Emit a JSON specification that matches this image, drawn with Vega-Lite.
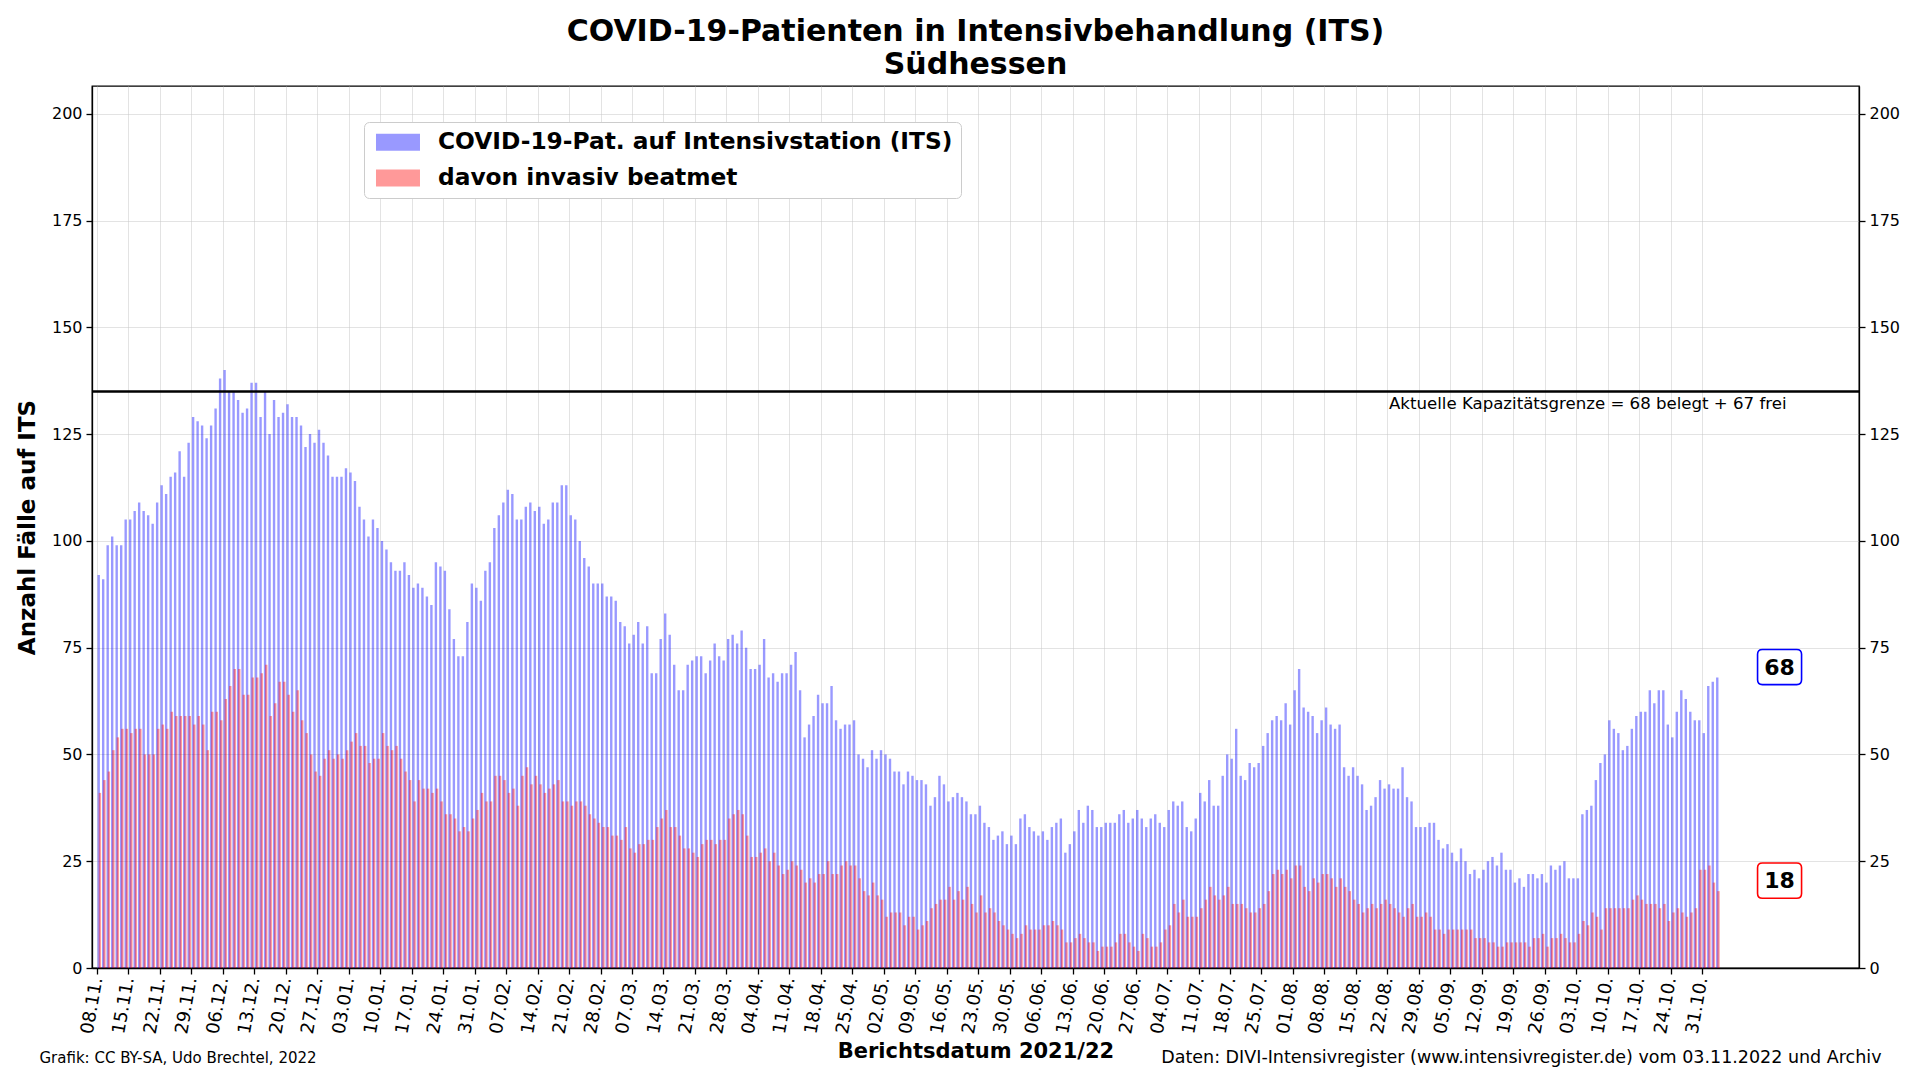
{
  "$schema": "https://vega.github.io/schema/vega-lite/v6.json",
  "width": 1767,
  "height": 882,
  "autosize": {"type": "none"},
  "padding": {"left": 92, "top": 86, "right": 61, "bottom": 112},
  "background": "white",
  "title": {
    "text": ["COVID-19-Patienten in Intensivbehandlung (ITS)", "Südhessen"],
    "fontSize": 30, "fontWeight": "bold", "font": "DejaVu Sans", "color": "black",
    "anchor": "middle", "frame": "group", "lineHeight": 33, "offset": 6
  },
  "datasets": {
    "its": [
{"d":"2021-11-08","its":92,"inv":41},{"d":"2021-11-09","its":91,"inv":44},{"d":"2021-11-10","its":99,"inv":46},{"d":"2021-11-11","its":101,"inv":51},{"d":"2021-11-12","its":99,"inv":54},{"d":"2021-11-13","its":99,"inv":56},{"d":"2021-11-14","its":105,"inv":56},{"d":"2021-11-15","its":105,"inv":55},{"d":"2021-11-16","its":107,"inv":56},{"d":"2021-11-17","its":109,"inv":56},{"d":"2021-11-18","its":107,"inv":50},{"d":"2021-11-19","its":106,"inv":50},{"d":"2021-11-20","its":104,"inv":50},{"d":"2021-11-21","its":109,"inv":56},{"d":"2021-11-22","its":113,"inv":57},{"d":"2021-11-23","its":111,"inv":56},{"d":"2021-11-24","its":115,"inv":60},{"d":"2021-11-25","its":116,"inv":59},{"d":"2021-11-26","its":121,"inv":59},{"d":"2021-11-27","its":115,"inv":59},{"d":"2021-11-28","its":123,"inv":59},{"d":"2021-11-29","its":129,"inv":57},{"d":"2021-11-30","its":128,"inv":59},
{"d":"2021-12-01","its":127,"inv":57},{"d":"2021-12-02","its":124,"inv":51},{"d":"2021-12-03","its":127,"inv":60},{"d":"2021-12-04","its":131,"inv":60},{"d":"2021-12-05","its":138,"inv":58},{"d":"2021-12-06","its":140,"inv":63},{"d":"2021-12-07","its":135,"inv":66},{"d":"2021-12-08","its":135,"inv":70},{"d":"2021-12-09","its":133,"inv":70},{"d":"2021-12-10","its":130,"inv":64},{"d":"2021-12-11","its":131,"inv":64},{"d":"2021-12-12","its":137,"inv":68},{"d":"2021-12-13","its":137,"inv":68},{"d":"2021-12-14","its":129,"inv":69},{"d":"2021-12-15","its":135,"inv":71},{"d":"2021-12-16","its":125,"inv":59},{"d":"2021-12-17","its":133,"inv":62},{"d":"2021-12-18","its":129,"inv":67},{"d":"2021-12-19","its":130,"inv":67},{"d":"2021-12-20","its":132,"inv":64},{"d":"2021-12-21","its":129,"inv":60},{"d":"2021-12-22","its":129,"inv":65},{"d":"2021-12-23","its":127,"inv":58},{"d":"2021-12-24","its":122,"inv":55},{"d":"2021-12-25","its":125,"inv":50},{"d":"2021-12-26","its":123,"inv":46},{"d":"2021-12-27","its":126,"inv":45},{"d":"2021-12-28","its":123,"inv":49},{"d":"2021-12-29","its":120,"inv":51},{"d":"2021-12-30","its":115,"inv":49},{"d":"2021-12-31","its":115,"inv":50},
{"d":"2022-01-01","its":115,"inv":49},{"d":"2022-01-02","its":117,"inv":51},{"d":"2022-01-03","its":116,"inv":53},{"d":"2022-01-04","its":114,"inv":55},{"d":"2022-01-05","its":108,"inv":52},{"d":"2022-01-06","its":105,"inv":52},{"d":"2022-01-07","its":101,"inv":48},{"d":"2022-01-08","its":105,"inv":49},{"d":"2022-01-09","its":103,"inv":49},{"d":"2022-01-10","its":100,"inv":55},{"d":"2022-01-11","its":98,"inv":52},{"d":"2022-01-12","its":95,"inv":51},{"d":"2022-01-13","its":93,"inv":52},{"d":"2022-01-14","its":93,"inv":49},{"d":"2022-01-15","its":95,"inv":46},{"d":"2022-01-16","its":92,"inv":44},{"d":"2022-01-17","its":89,"inv":39},{"d":"2022-01-18","its":90,"inv":44},{"d":"2022-01-19","its":89,"inv":42},{"d":"2022-01-20","its":87,"inv":42},{"d":"2022-01-21","its":85,"inv":41},{"d":"2022-01-22","its":95,"inv":42},{"d":"2022-01-23","its":94,"inv":39},{"d":"2022-01-24","its":93,"inv":36},{"d":"2022-01-25","its":84,"inv":36},{"d":"2022-01-26","its":77,"inv":35},{"d":"2022-01-27","its":73,"inv":32},{"d":"2022-01-28","its":73,"inv":33},{"d":"2022-01-29","its":81,"inv":32},{"d":"2022-01-30","its":90,"inv":35},{"d":"2022-01-31","its":89,"inv":37},
{"d":"2022-02-01","its":86,"inv":41},{"d":"2022-02-02","its":93,"inv":39},{"d":"2022-02-03","its":95,"inv":39},{"d":"2022-02-04","its":103,"inv":45},{"d":"2022-02-05","its":106,"inv":45},{"d":"2022-02-06","its":109,"inv":44},{"d":"2022-02-07","its":112,"inv":41},{"d":"2022-02-08","its":111,"inv":42},{"d":"2022-02-09","its":105,"inv":38},{"d":"2022-02-10","its":105,"inv":45},{"d":"2022-02-11","its":108,"inv":47},{"d":"2022-02-12","its":109,"inv":43},{"d":"2022-02-13","its":107,"inv":45},{"d":"2022-02-14","its":108,"inv":43},{"d":"2022-02-15","its":104,"inv":41},{"d":"2022-02-16","its":105,"inv":42},{"d":"2022-02-17","its":109,"inv":43},{"d":"2022-02-18","its":109,"inv":44},{"d":"2022-02-19","its":113,"inv":39},{"d":"2022-02-20","its":113,"inv":39},{"d":"2022-02-21","its":106,"inv":38},{"d":"2022-02-22","its":105,"inv":39},{"d":"2022-02-23","its":100,"inv":39},{"d":"2022-02-24","its":96,"inv":38},{"d":"2022-02-25","its":94,"inv":36},{"d":"2022-02-26","its":90,"inv":35},{"d":"2022-02-27","its":90,"inv":34},{"d":"2022-02-28","its":90,"inv":33},
{"d":"2022-03-01","its":87,"inv":33},{"d":"2022-03-02","its":87,"inv":31},{"d":"2022-03-03","its":86,"inv":31},{"d":"2022-03-04","its":81,"inv":30},{"d":"2022-03-05","its":80,"inv":33},{"d":"2022-03-06","its":76,"inv":28},{"d":"2022-03-07","its":78,"inv":27},{"d":"2022-03-08","its":81,"inv":29},{"d":"2022-03-09","its":76,"inv":29},{"d":"2022-03-10","its":80,"inv":30},{"d":"2022-03-11","its":69,"inv":30},{"d":"2022-03-12","its":69,"inv":33},{"d":"2022-03-13","its":77,"inv":35},{"d":"2022-03-14","its":83,"inv":37},{"d":"2022-03-15","its":78,"inv":33},{"d":"2022-03-16","its":71,"inv":33},{"d":"2022-03-17","its":65,"inv":31},{"d":"2022-03-18","its":65,"inv":28},{"d":"2022-03-19","its":71,"inv":28},{"d":"2022-03-20","its":72,"inv":27},{"d":"2022-03-21","its":73,"inv":26},{"d":"2022-03-22","its":73,"inv":29},{"d":"2022-03-23","its":69,"inv":30},{"d":"2022-03-24","its":72,"inv":30},{"d":"2022-03-25","its":76,"inv":29},{"d":"2022-03-26","its":73,"inv":30},{"d":"2022-03-27","its":72,"inv":30},{"d":"2022-03-28","its":77,"inv":35},{"d":"2022-03-29","its":78,"inv":36},{"d":"2022-03-30","its":76,"inv":37},{"d":"2022-03-31","its":79,"inv":36},
{"d":"2022-04-01","its":75,"inv":31},{"d":"2022-04-02","its":70,"inv":26},{"d":"2022-04-03","its":70,"inv":26},{"d":"2022-04-04","its":71,"inv":27},{"d":"2022-04-05","its":77,"inv":28},{"d":"2022-04-06","its":68,"inv":25},{"d":"2022-04-07","its":69,"inv":27},{"d":"2022-04-08","its":67,"inv":24},{"d":"2022-04-09","its":69,"inv":22},{"d":"2022-04-10","its":69,"inv":23},{"d":"2022-04-11","its":71,"inv":25},{"d":"2022-04-12","its":74,"inv":24},{"d":"2022-04-13","its":65,"inv":23},{"d":"2022-04-14","its":54,"inv":20},{"d":"2022-04-15","its":57,"inv":21},{"d":"2022-04-16","its":59,"inv":20},{"d":"2022-04-17","its":64,"inv":22},{"d":"2022-04-18","its":62,"inv":22},{"d":"2022-04-19","its":62,"inv":25},{"d":"2022-04-20","its":66,"inv":22},{"d":"2022-04-21","its":58,"inv":22},{"d":"2022-04-22","its":56,"inv":24},{"d":"2022-04-23","its":57,"inv":25},{"d":"2022-04-24","its":57,"inv":24},{"d":"2022-04-25","its":58,"inv":24},{"d":"2022-04-26","its":50,"inv":21},{"d":"2022-04-27","its":49,"inv":18},{"d":"2022-04-28","its":47,"inv":17},{"d":"2022-04-29","its":51,"inv":20},{"d":"2022-04-30","its":49,"inv":17},
{"d":"2022-05-01","its":51,"inv":16},{"d":"2022-05-02","its":50,"inv":12},{"d":"2022-05-03","its":49,"inv":13},{"d":"2022-05-04","its":46,"inv":13},{"d":"2022-05-05","its":46,"inv":13},{"d":"2022-05-06","its":43,"inv":10},{"d":"2022-05-07","its":46,"inv":12},{"d":"2022-05-08","its":45,"inv":12},{"d":"2022-05-09","its":44,"inv":9},{"d":"2022-05-10","its":44,"inv":10},{"d":"2022-05-11","its":43,"inv":11},{"d":"2022-05-12","its":38,"inv":14},{"d":"2022-05-13","its":40,"inv":15},{"d":"2022-05-14","its":45,"inv":16},{"d":"2022-05-15","its":43,"inv":16},{"d":"2022-05-16","its":39,"inv":19},{"d":"2022-05-17","its":40,"inv":16},{"d":"2022-05-18","its":41,"inv":18},{"d":"2022-05-19","its":40,"inv":16},{"d":"2022-05-20","its":39,"inv":19},{"d":"2022-05-21","its":36,"inv":15},{"d":"2022-05-22","its":36,"inv":13},{"d":"2022-05-23","its":38,"inv":17},{"d":"2022-05-24","its":34,"inv":13},{"d":"2022-05-25","its":33,"inv":14},{"d":"2022-05-26","its":30,"inv":13},{"d":"2022-05-27","its":31,"inv":11},{"d":"2022-05-28","its":32,"inv":10},{"d":"2022-05-29","its":29,"inv":9},{"d":"2022-05-30","its":31,"inv":8},{"d":"2022-05-31","its":29,"inv":7},
{"d":"2022-06-01","its":35,"inv":8},{"d":"2022-06-02","its":36,"inv":10},{"d":"2022-06-03","its":33,"inv":9},{"d":"2022-06-04","its":32,"inv":9},{"d":"2022-06-05","its":31,"inv":9},{"d":"2022-06-06","its":32,"inv":10},{"d":"2022-06-07","its":30,"inv":10},{"d":"2022-06-08","its":33,"inv":11},{"d":"2022-06-09","its":34,"inv":10},{"d":"2022-06-10","its":35,"inv":9},{"d":"2022-06-11","its":27,"inv":6},{"d":"2022-06-12","its":29,"inv":6},{"d":"2022-06-13","its":32,"inv":7},{"d":"2022-06-14","its":37,"inv":8},{"d":"2022-06-15","its":34,"inv":7},{"d":"2022-06-16","its":38,"inv":6},{"d":"2022-06-17","its":37,"inv":6},{"d":"2022-06-18","its":33,"inv":4},{"d":"2022-06-19","its":33,"inv":5},{"d":"2022-06-20","its":34,"inv":5},{"d":"2022-06-21","its":34,"inv":5},{"d":"2022-06-22","its":34,"inv":6},{"d":"2022-06-23","its":36,"inv":8},{"d":"2022-06-24","its":37,"inv":8},{"d":"2022-06-25","its":34,"inv":6},{"d":"2022-06-26","its":35,"inv":5},{"d":"2022-06-27","its":37,"inv":4},{"d":"2022-06-28","its":35,"inv":8},{"d":"2022-06-29","its":33,"inv":7},{"d":"2022-06-30","its":35,"inv":5},
{"d":"2022-07-01","its":36,"inv":5},{"d":"2022-07-02","its":34,"inv":6},{"d":"2022-07-03","its":33,"inv":9},{"d":"2022-07-04","its":37,"inv":10},{"d":"2022-07-05","its":39,"inv":15},{"d":"2022-07-06","its":38,"inv":13},{"d":"2022-07-07","its":39,"inv":16},{"d":"2022-07-08","its":33,"inv":12},{"d":"2022-07-09","its":32,"inv":12},{"d":"2022-07-10","its":35,"inv":12},{"d":"2022-07-11","its":41,"inv":14},{"d":"2022-07-12","its":39,"inv":16},{"d":"2022-07-13","its":44,"inv":19},{"d":"2022-07-14","its":38,"inv":17},{"d":"2022-07-15","its":38,"inv":16},{"d":"2022-07-16","its":45,"inv":17},{"d":"2022-07-17","its":50,"inv":19},{"d":"2022-07-18","its":49,"inv":15},{"d":"2022-07-19","its":56,"inv":15},{"d":"2022-07-20","its":45,"inv":15},{"d":"2022-07-21","its":44,"inv":14},{"d":"2022-07-22","its":48,"inv":13},{"d":"2022-07-23","its":47,"inv":13},{"d":"2022-07-24","its":48,"inv":14},{"d":"2022-07-25","its":52,"inv":15},{"d":"2022-07-26","its":55,"inv":18},{"d":"2022-07-27","its":58,"inv":22},{"d":"2022-07-28","its":59,"inv":23},{"d":"2022-07-29","its":58,"inv":22},{"d":"2022-07-30","its":62,"inv":23},{"d":"2022-07-31","its":57,"inv":21},
{"d":"2022-08-01","its":65,"inv":24},{"d":"2022-08-02","its":70,"inv":24},{"d":"2022-08-03","its":61,"inv":19},{"d":"2022-08-04","its":60,"inv":18},{"d":"2022-08-05","its":59,"inv":21},{"d":"2022-08-06","its":55,"inv":20},{"d":"2022-08-07","its":58,"inv":22},{"d":"2022-08-08","its":61,"inv":22},{"d":"2022-08-09","its":57,"inv":21},{"d":"2022-08-10","its":56,"inv":19},{"d":"2022-08-11","its":57,"inv":21},{"d":"2022-08-12","its":47,"inv":19},{"d":"2022-08-13","its":45,"inv":18},{"d":"2022-08-14","its":47,"inv":16},{"d":"2022-08-15","its":45,"inv":15},{"d":"2022-08-16","its":43,"inv":13},{"d":"2022-08-17","its":37,"inv":14},{"d":"2022-08-18","its":38,"inv":15},{"d":"2022-08-19","its":40,"inv":14},{"d":"2022-08-20","its":44,"inv":15},{"d":"2022-08-21","its":42,"inv":16},{"d":"2022-08-22","its":43,"inv":15},{"d":"2022-08-23","its":42,"inv":14},{"d":"2022-08-24","its":42,"inv":13},{"d":"2022-08-25","its":47,"inv":12},{"d":"2022-08-26","its":40,"inv":14},{"d":"2022-08-27","its":39,"inv":15},{"d":"2022-08-28","its":33,"inv":12},{"d":"2022-08-29","its":33,"inv":12},{"d":"2022-08-30","its":33,"inv":13},{"d":"2022-08-31","its":34,"inv":12},
{"d":"2022-09-01","its":34,"inv":9},{"d":"2022-09-02","its":30,"inv":9},{"d":"2022-09-03","its":28,"inv":8},{"d":"2022-09-04","its":29,"inv":9},{"d":"2022-09-05","its":27,"inv":9},{"d":"2022-09-06","its":25,"inv":9},{"d":"2022-09-07","its":28,"inv":9},{"d":"2022-09-08","its":25,"inv":9},{"d":"2022-09-09","its":22,"inv":9},{"d":"2022-09-10","its":23,"inv":7},{"d":"2022-09-11","its":21,"inv":7},{"d":"2022-09-12","its":23,"inv":7},{"d":"2022-09-13","its":25,"inv":6},{"d":"2022-09-14","its":26,"inv":6},{"d":"2022-09-15","its":24,"inv":5},{"d":"2022-09-16","its":27,"inv":5},{"d":"2022-09-17","its":23,"inv":6},{"d":"2022-09-18","its":23,"inv":6},{"d":"2022-09-19","its":20,"inv":6},{"d":"2022-09-20","its":21,"inv":6},{"d":"2022-09-21","its":19,"inv":6},{"d":"2022-09-22","its":22,"inv":5},{"d":"2022-09-23","its":22,"inv":7},{"d":"2022-09-24","its":21,"inv":7},{"d":"2022-09-25","its":22,"inv":8},{"d":"2022-09-26","its":20,"inv":5},{"d":"2022-09-27","its":24,"inv":7},{"d":"2022-09-28","its":23,"inv":7},{"d":"2022-09-29","its":24,"inv":8},{"d":"2022-09-30","its":25,"inv":7},
{"d":"2022-10-01","its":21,"inv":6},{"d":"2022-10-02","its":21,"inv":6},{"d":"2022-10-03","its":21,"inv":8},{"d":"2022-10-04","its":36,"inv":11},{"d":"2022-10-05","its":37,"inv":10},{"d":"2022-10-06","its":38,"inv":13},{"d":"2022-10-07","its":44,"inv":12},{"d":"2022-10-08","its":48,"inv":9},{"d":"2022-10-09","its":50,"inv":14},{"d":"2022-10-10","its":58,"inv":14},{"d":"2022-10-11","its":56,"inv":14},{"d":"2022-10-12","its":55,"inv":14},{"d":"2022-10-13","its":51,"inv":14},{"d":"2022-10-14","its":52,"inv":14},{"d":"2022-10-15","its":56,"inv":16},{"d":"2022-10-16","its":59,"inv":17},{"d":"2022-10-17","its":60,"inv":16},{"d":"2022-10-18","its":60,"inv":15},{"d":"2022-10-19","its":65,"inv":15},{"d":"2022-10-20","its":62,"inv":15},{"d":"2022-10-21","its":65,"inv":14},{"d":"2022-10-22","its":65,"inv":15},{"d":"2022-10-23","its":57,"inv":11},{"d":"2022-10-24","its":54,"inv":13},{"d":"2022-10-25","its":60,"inv":14},{"d":"2022-10-26","its":65,"inv":13},{"d":"2022-10-27","its":63,"inv":12},{"d":"2022-10-28","its":60,"inv":13},{"d":"2022-10-29","its":58,"inv":14},{"d":"2022-10-30","its":58,"inv":23},{"d":"2022-10-31","its":55,"inv":23},
{"d":"2022-11-01","its":66,"inv":24},{"d":"2022-11-02","its":67,"inv":20},{"d":"2022-11-03","its":68,"inv":18}
    ],
    "kapazitaet": [
      {"kap": 135, "belegt": 68, "frei": 67, "stand": "2022-11-03", "label": "Aktuelle Kapazitätsgrenze = 68 belegt + 67 frei"}
    ]
  },
  "data": {"name": "its", "format": {"parse": {"d": "date"}}},
  "resolve": {"axis": {"x": "independent", "y": "independent"}},
  "layer": [
    {
      "mark": {"type": "bar", "width": 2.4, "xOffset": 1.7, "opacity": 0.4},
      "encoding": {
        "x": {
          "field": "d", "type": "temporal",
          "scale": {"type": "utc", "domain": [{"year": 2021, "month": 11, "date": 8, "utc": true}, {"year": 2022, "month": 12, "date": 3, "hours": 19, "utc": true}]},
          "axis": {
            "orient": "bottom",
            "values": [
              {"year":2021,"month":11,"date":8,"utc":true},{"year":2021,"month":11,"date":15,"utc":true},{"year":2021,"month":11,"date":22,"utc":true},{"year":2021,"month":11,"date":29,"utc":true},
              {"year":2021,"month":12,"date":6,"utc":true},{"year":2021,"month":12,"date":13,"utc":true},{"year":2021,"month":12,"date":20,"utc":true},{"year":2021,"month":12,"date":27,"utc":true},
              {"year":2022,"month":1,"date":3,"utc":true},{"year":2022,"month":1,"date":10,"utc":true},{"year":2022,"month":1,"date":17,"utc":true},{"year":2022,"month":1,"date":24,"utc":true},{"year":2022,"month":1,"date":31,"utc":true},
              {"year":2022,"month":2,"date":7,"utc":true},{"year":2022,"month":2,"date":14,"utc":true},{"year":2022,"month":2,"date":21,"utc":true},{"year":2022,"month":2,"date":28,"utc":true},
              {"year":2022,"month":3,"date":7,"utc":true},{"year":2022,"month":3,"date":14,"utc":true},{"year":2022,"month":3,"date":21,"utc":true},{"year":2022,"month":3,"date":28,"utc":true},
              {"year":2022,"month":4,"date":4,"utc":true},{"year":2022,"month":4,"date":11,"utc":true},{"year":2022,"month":4,"date":18,"utc":true},{"year":2022,"month":4,"date":25,"utc":true},
              {"year":2022,"month":5,"date":2,"utc":true},{"year":2022,"month":5,"date":9,"utc":true},{"year":2022,"month":5,"date":16,"utc":true},{"year":2022,"month":5,"date":23,"utc":true},{"year":2022,"month":5,"date":30,"utc":true},
              {"year":2022,"month":6,"date":6,"utc":true},{"year":2022,"month":6,"date":13,"utc":true},{"year":2022,"month":6,"date":20,"utc":true},{"year":2022,"month":6,"date":27,"utc":true},
              {"year":2022,"month":7,"date":4,"utc":true},{"year":2022,"month":7,"date":11,"utc":true},{"year":2022,"month":7,"date":18,"utc":true},{"year":2022,"month":7,"date":25,"utc":true},
              {"year":2022,"month":8,"date":1,"utc":true},{"year":2022,"month":8,"date":8,"utc":true},{"year":2022,"month":8,"date":15,"utc":true},{"year":2022,"month":8,"date":22,"utc":true},{"year":2022,"month":8,"date":29,"utc":true},
              {"year":2022,"month":9,"date":5,"utc":true},{"year":2022,"month":9,"date":12,"utc":true},{"year":2022,"month":9,"date":19,"utc":true},{"year":2022,"month":9,"date":26,"utc":true},
              {"year":2022,"month":10,"date":3,"utc":true},{"year":2022,"month":10,"date":10,"utc":true},{"year":2022,"month":10,"date":17,"utc":true},{"year":2022,"month":10,"date":24,"utc":true},{"year":2022,"month":10,"date":31,"utc":true}
            ],
            "labelExpr": "utcFormat(datum.value, '%d.%m.')",
            "labelAngle": -80, "labelFontSize": 18, "labelOverlap": false, "labelFlush": false, "labelPadding": 3, "labelBound": false,
            "tickSize": 6, "grid": true,
            "title": "Berichtsdatum 2021/22", "titleFontSize": 21, "titleFontWeight": "bold",
            "titleX": 883.5, "titleY": 89, "titleAlign": "center", "titleBaseline": "alphabetic"
          }
        },
        "y": {
          "field": "its", "type": "quantitative",
          "scale": {"domain": [0, 206.5], "nice": false, "zero": true},
          "axis": {
            "orient": "left", "values": [0, 25, 50, 75, 100, 125, 150, 175, 200],
            "labelFontSize": 16, "labelPadding": 4, "tickSize": 6, "grid": true,
            "title": "Anzahl Fälle auf ITS", "titleFontSize": 23, "titleFontWeight": "bold",
            "titleX": -65, "titleY": 441, "titleAlign": "center", "titleBaseline": "middle", "titleAngle": -90
          }
        },
        "color": {
          "datum": "COVID-19-Pat. auf Intensivstation (ITS)",
          "scale": {"domain": ["COVID-19-Pat. auf Intensivstation (ITS)", "davon invasiv beatmet"], "range": ["#0000ff", "#ff0000"]},
          "legend": {
            "orient": "none", "legendX": 272, "legendY": 36, "direction": "vertical", "title": null,
            "fillColor": "white", "strokeColor": "#cccccc", "cornerRadius": 5, "padding": 8.3, "rowPadding": 11.8,
            "labelFontSize": 23.3, "labelFontWeight": "bold", "labelFont": "DejaVu Sans", "labelColor": "black", "labelLimit": 1000, "labelOffset": 41.7,
            "symbolType": "M-0.692,-0.708L2.975,-0.708L2.975,0.708L-0.692,0.708Z", "symbolSize": 576, "symbolOpacity": 0.4, "symbolStrokeWidth": 0
          }
        }
      }
    },
    {
      "mark": {"type": "bar", "width": 2.4, "xOffset": 2.9, "opacity": 0.4},
      "encoding": {
        "x": {
          "field": "d", "type": "temporal",
          "axis": {
            "orient": "bottom", "labels": false, "ticks": false, "domain": false, "grid": false,
            "title": "Grafik: CC BY-SA, Udo Brechtel, 2022", "titleFontSize": 15, "titleFontWeight": "normal",
            "titleX": -53, "titleY": 94, "titleAlign": "left", "titleBaseline": "alphabetic"
          }
        },
        "y": {
          "field": "inv", "type": "quantitative",
          "axis": {
            "orient": "right", "values": [0, 25, 50, 75, 100, 125, 150, 175, 200],
            "labelFontSize": 16, "labelPadding": 4, "tickSize": 6, "grid": false,
            "title": "Daten: DIVI-Intensivregister (www.intensivregister.de) vom 03.11.2022 und Archiv",
            "titleFontSize": 17.5, "titleFontWeight": "normal", "titleAngle": 0,
            "titleX": 22, "titleY": 976, "titleAlign": "right", "titleBaseline": "alphabetic"
          }
        },
        "color": {"datum": "davon invasiv beatmet"}
      }
    },
    {
      "data": {"name": "kapazitaet"},
      "mark": {"type": "rule", "color": "black", "strokeWidth": 2.5},
      "encoding": {"y": {"field": "kap", "type": "quantitative", "axis": null}}
    },
    {
      "data": {"name": "kapazitaet"},
      "mark": {"type": "text", "align": "right", "baseline": "top", "fontSize": 16.6, "color": "black", "xOffset": 71, "yOffset": 5},
      "encoding": {
        "x": {"field": "stand", "type": "temporal", "axis": null},
        "y": {"field": "kap", "type": "quantitative", "axis": null},
        "text": {"field": "label"}
      }
    },
    {
      "transform": [{"window": [{"op": "row_number", "as": "r"}], "sort": [{"field": "d", "order": "descending"}]}, {"filter": "datum.r == 1"}],
      "layer": [
        {
          "mark": {"type": "point", "shape": "M-0.78,-0.8L0.78,-0.8Q1,-0.8,1,-0.58L1,0.58Q1,0.8,0.78,0.8L-0.78,0.8Q-1,0.8,-1,0.58L-1,-0.58Q-1,-0.8,-0.78,-0.8Z", "size": 1936, "filled": true, "fill": "white", "stroke": "#0000ff", "strokeWidth": 1.6, "opacity": 1, "fillOpacity": 1, "strokeOpacity": 1, "xOffset": 64, "yOffset": -10.5},
          "encoding": {"x": {"field": "d", "type": "temporal", "axis": null}, "y": {"field": "its", "type": "quantitative", "axis": null}}
        },
        {
          "mark": {"type": "text", "fontSize": 22, "fontWeight": "bold", "color": "black", "align": "center", "baseline": "middle", "xOffset": 64, "yOffset": -10},
          "encoding": {"x": {"field": "d", "type": "temporal", "axis": null}, "y": {"field": "its", "type": "quantitative", "axis": null}, "text": {"field": "its", "type": "quantitative"}}
        },
        {
          "mark": {"type": "point", "shape": "M-0.78,-0.8L0.78,-0.8Q1,-0.8,1,-0.58L1,0.58Q1,0.8,0.78,0.8L-0.78,0.8Q-1,0.8,-1,0.58L-1,-0.58Q-1,-0.8,-0.78,-0.8Z", "size": 1936, "filled": true, "fill": "white", "stroke": "#ff0000", "strokeWidth": 1.6, "opacity": 1, "fillOpacity": 1, "strokeOpacity": 1, "xOffset": 64, "yOffset": -10.5},
          "encoding": {"x": {"field": "d", "type": "temporal", "axis": null}, "y": {"field": "inv", "type": "quantitative", "axis": null}}
        },
        {
          "mark": {"type": "text", "fontSize": 22, "fontWeight": "bold", "color": "black", "align": "center", "baseline": "middle", "xOffset": 64, "yOffset": -10},
          "encoding": {"x": {"field": "d", "type": "temporal", "axis": null}, "y": {"field": "inv", "type": "quantitative", "axis": null}, "text": {"field": "inv", "type": "quantitative"}}
        }
      ]
    }
  ],
  "config": {
    "font": "DejaVu Sans",
    "view": {"stroke": "black", "strokeWidth": 1.3},
    "axis": {
      "labelColor": "black", "tickColor": "black", "domainColor": "black", "titleColor": "black",
      "tickWidth": 1.3, "domainWidth": 1.3, "gridColor": "#c8c8c8", "gridOpacity": 0.5, "gridWidth": 1,
      "labelFont": "DejaVu Sans", "titleFont": "DejaVu Sans", "zindex": 1
    },
    "text": {"font": "DejaVu Sans"}
  }
}
